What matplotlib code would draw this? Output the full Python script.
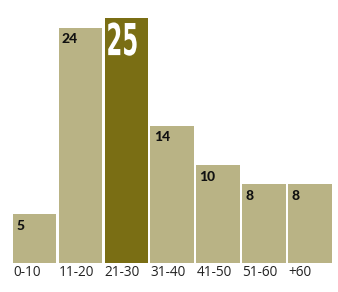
import matplotlib; matplotlib.use("Agg")
import matplotlib.pyplot as plt
from matplotlib.textpath import TextPath
from matplotlib.patches import PathPatch
from matplotlib.font_manager import FontProperties
from matplotlib.transforms import Affine2D

categories = ["0-10", "11-20", "21-30", "31-40", "41-50", "51-60", "+60"]
values = [5, 24, 25, 14, 10, 8, 8]
highlight = "21-30"

LIGHT = "#b9b385"
DARK = "#7a6e14"
W = 0.95

fig = plt.figure(figsize=(3.38, 2.92), dpi=100)
ax = fig.add_axes([0, 0, 1, 1])
ax.set_xlim(-0.757, 6.615)
ax.set_ylim(-2.99, 26.81)
ax.axis("off")

xs = list(range(len(categories)))
cols = [DARK if c == highlight else LIGHT for c in categories]
ax.bar(xs, values, width=W, color=cols, linewidth=0)

for x, c, v in zip(xs, categories, values):
    left = x - W / 2
    ax.text(left, -1.05, c, ha="left", va="center", fontsize=9.8,
            family="Open Sans", color="#222222")
    if c == highlight:
        # big condensed white number inside the highlighted bar
        tp = TextPath((0, 0), str(v), size=40,
                      prop=FontProperties(family="Liberation Sans Narrow", weight="bold"))
        ex = tp.get_extents()
        bw, bh = 28.4 / 45.85, 33.3 / 9.8
        bl = left + 3.6 / 45.85
        top = v - 4.7 / 9.8
        tr = (Affine2D().translate(-ex.x0, -ex.y0)
              .scale(bw / ex.width, bh / ex.height)
              .translate(bl, top - bh) + ax.transData)
        ax.add_patch(PathPatch(tp, transform=tr, facecolor="white", lw=0))
    else:
        ax.annotate(str(v), (left, v), xytext=(2.3, -8.6), textcoords="offset points",
                    ha="left", va="center", fontsize=10, fontweight="black",
                    family="Lato", color="#111111")

fig.savefig("out.png", dpi=100, facecolor="white")
